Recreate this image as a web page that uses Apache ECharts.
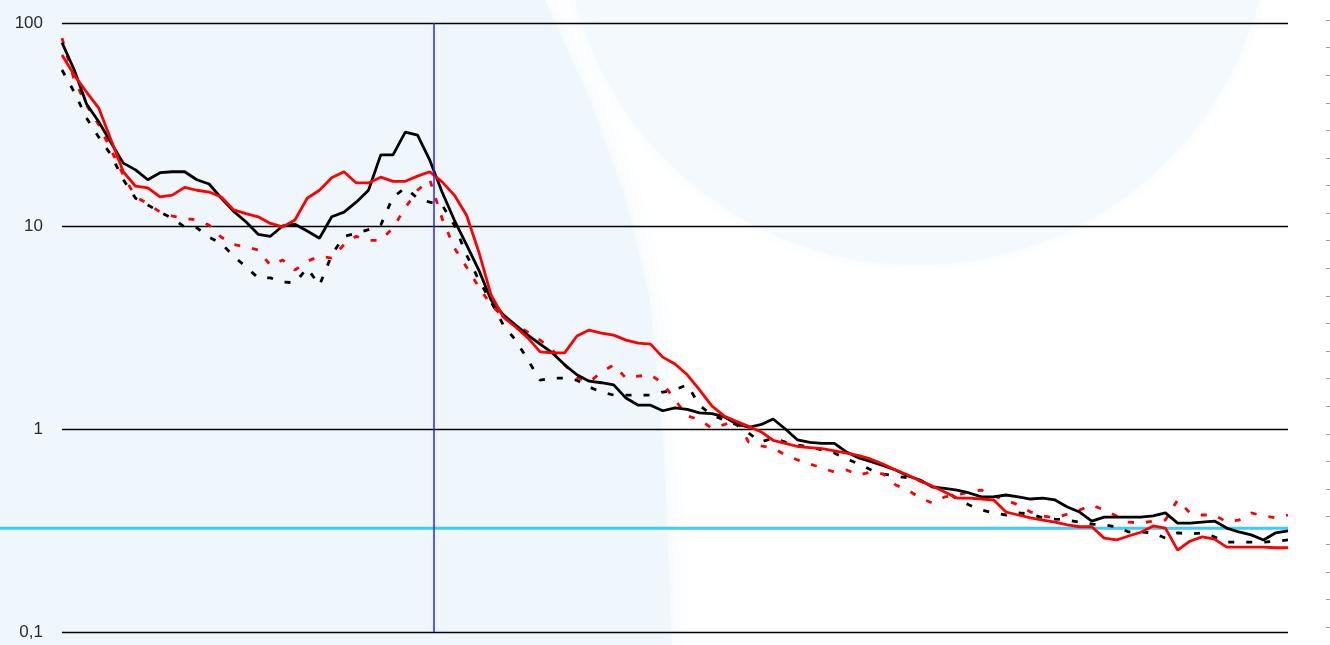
<!DOCTYPE html>
<html>
<head>
<meta charset="utf-8">
<style>
  html, body { margin: 0; padding: 0; background: #ffffff; }
  #chart { width: 1330px; height: 645px; }
</style>
<script src="https://cdn.jsdelivr.net/npm/echarts@6.0.0/dist/echarts.min.js"></script>
</head>
<body>
<div id="chart"></div>
<script>
// Four measured curves, one value per step along the horizontal axis.
const blackSolid = [80, 58.7, 39.9, 32.6, 25.7, 20.4, 18.9, 16.9, 18.3, 18.5,
  18.5, 16.9, 16.1, 13.7, 11.8, 10.5, 9.1, 8.9, 10, 10.2,
  9.45, 8.7, 11.1, 11.7, 13.1, 15.0, 22.4, 22.4, 29.0, 28.0,
  21.1, 14.7, 10.7, 8.07, 6.07, 4.32, 3.65, 3.25, 2.90, 2.62,
  2.37, 2.07, 1.85, 1.72, 1.69, 1.65, 1.42, 1.31, 1.31, 1.23,
  1.27, 1.25, 1.20, 1.19, 1.15, 1.06, 1.02, 1.05, 1.12, 1.0,
  0.883, 0.86, 0.85, 0.85, 0.77, 0.72, 0.69, 0.66, 0.628, 0.587,
  0.561, 0.517, 0.51, 0.50, 0.484, 0.463, 0.463, 0.473, 0.463, 0.452,
  0.457, 0.447, 0.413, 0.39, 0.352, 0.368, 0.368, 0.368, 0.368, 0.373,
  0.386, 0.344, 0.344, 0.348, 0.352, 0.325, 0.311, 0.301, 0.284, 0.308, 0.315];

const redSolid = [69.5, 55.4, 45.7, 38.1, 26.5, 18.5, 15.7, 15.4, 13.9, 14.2,
  15.5, 15.0, 14.7, 13.9, 12.0, 11.5, 11.1, 10.3, 9.9, 10.7,
  13.7, 15.0, 17.3, 18.5, 16.3, 16.3, 17.4, 16.6, 16.6, 17.6,
  18.5, 16.5, 14.2, 11.3, 7.45, 4.57, 3.56, 3.18, 2.81, 2.40,
  2.37, 2.37, 2.87, 3.07, 2.97, 2.90, 2.74, 2.65, 2.62, 2.26,
  2.09, 1.85, 1.56, 1.30, 1.16, 1.09, 1.03, 0.97, 0.88, 0.85,
  0.82, 0.81, 0.80, 0.78, 0.76, 0.74, 0.71, 0.67, 0.628, 0.593,
  0.555, 0.524, 0.49, 0.457, 0.457, 0.452, 0.447, 0.39, 0.377, 0.365,
  0.356, 0.348, 0.337, 0.33, 0.33, 0.29, 0.284, 0.297, 0.31, 0.333,
  0.325, 0.253, 0.28, 0.294, 0.287, 0.262, 0.262, 0.262, 0.262, 0.26, 0.26];

const blackDashed = [58.7, 45.7, 34.0, 27.4, 22.4, 16.9, 13.7, 12.7, 11.7, 10.9,
  9.9, 9.8, 8.8, 8.2, 7.1, 6.3, 5.55, 5.55, 5.3, 5.25,
  6.2, 5.1, 7.2, 8.9, 9.2, 9.6, 10.1, 13.9, 15.4, 13.7,
  13.1, 12.7, 10.1, 7.2, 5.42, 4.23, 3.25, 2.74, 2.19, 1.74,
  1.78, 1.78, 1.74, 1.61, 1.52, 1.47, 1.47, 1.47, 1.47, 1.52,
  1.56, 1.65, 1.31, 1.17, 1.11, 1.05, 0.956, 0.863, 0.90, 0.863,
  0.834, 0.815, 0.788, 0.762, 0.712, 0.673, 0.628, 0.60, 0.587, 0.574,
  0.555, 0.524, 0.50, 0.452, 0.422, 0.399, 0.386, 0.377, 0.386, 0.381,
  0.365, 0.36, 0.356, 0.348, 0.34, 0.337, 0.33, 0.311, 0.311, 0.308,
  0.29, 0.308, 0.304, 0.308, 0.294, 0.277, 0.277, 0.277, 0.277, 0.28, 0.284];

const redDashed = [84.3, 52.4, 39.4, 31.5, 23.7, 17.8, 13.9, 12.9, 11.7, 11.2,
  10.9, 10.7, 10.1, 8.8, 8.1, 7.9, 7.62, 6.4, 6.8, 6.07,
  6.7, 7.1, 6.95, 8.1, 8.9, 8.5, 8.5, 9.8, 12.3, 15.0,
  16.9, 10.9, 7.8, 6.27, 5.0, 4.08, 3.56, 3.25, 3.0, 2.74,
  2.45, 2.07, 1.80, 1.70, 1.91, 2.07, 1.78, 1.82, 1.85, 1.68,
  1.39, 1.16, 1.11, 1.01, 1.05, 1.11, 0.863, 0.825, 0.806, 0.745,
  0.704, 0.673, 0.642, 0.614, 0.628, 0.593, 0.614, 0.60, 0.53, 0.50,
  0.457, 0.432, 0.463, 0.473, 0.49, 0.50, 0.468, 0.447, 0.422, 0.39,
  0.373, 0.365, 0.381, 0.399, 0.422, 0.399, 0.373, 0.348, 0.344, 0.352,
  0.356, 0.447, 0.386, 0.377, 0.377, 0.348, 0.356, 0.386, 0.373, 0.365, 0.377];

// Decade ticks of the logarithmic value axis and their printed labels.
const yTickValues = [0.1, 1, 10, 100];
const yTickLabels = ['0,1', '1', '10', '100'];

// Vertical marker position and horizontal reference level.
const markerX = 30.34;
const referenceLevel = 0.324;

const lastIndex = blackSolid.length - 1;
const toPairs = arr => arr.map((v, i) => [i, v]);

function tickLabel(v) {
  let best = 0, bestDiff = Infinity;
  yTickValues.forEach((t, i) => {
    const d = Math.abs(Math.log10(v) - Math.log10(t));
    if (d < bestDiff) { bestDiff = d; best = i; }
  });
  return yTickLabels[best];
}

const chart = echarts.init(document.getElementById('chart'), null, { renderer: 'canvas' });

// Soft background: pale blue panel on the left and a large pale disc at the top.
const backdrop = [
  {
    type: 'polygon', z: -100, silent: true,
    shape: { points: [[0, 0], [545, 0], [590, 100], [626, 200], [650, 300], [664, 450], [672, 645], [0, 645]] },
    style: { fill: '#f0f7fc', shadowBlur: 30, shadowColor: '#f0f7fc' }
  },
  {
    type: 'circle', z: -100, silent: true,
    shape: { cx: 917, cy: -88, r: 353 },
    style: { fill: '#f4f9fd', shadowBlur: 16, shadowColor: '#f4f9fd' }
  }
];

const lineSeries = (name, data, color, dashed, extra) => Object.assign({
  name: name,
  type: 'line',
  xAxisIndex: 0,
  yAxisIndex: 0,
  data: toPairs(data),
  showSymbol: false,
  symbol: 'none',
  smooth: false,
  silent: true,
  lineStyle: { color: color, width: 2.8, type: dashed ? [6, 12] : 'solid' }
}, extra || {});

const option = {
  animation: false,
  backgroundColor: '#ffffff',
  graphic: backdrop,
  grid: [
    { left: 62, right: 42, top: 23, bottom: 13 },
    { left: 1326, width: 4, top: 20, bottom: 18 }
  ],
  xAxis: [
    { type: 'value', gridIndex: 0, min: 0, max: lastIndex, show: false },
    { type: 'value', gridIndex: 1, min: 0, max: 1, show: false }
  ],
  yAxis: [
    {
      type: 'log', logBase: 10, gridIndex: 0, min: 0.1, max: 100,
      axisLine: { show: false },
      axisTick: { show: false },
      splitLine: { show: true, lineStyle: { color: '#000000', width: 1.4 } },
      axisLabel: {
        margin: 19, color: '#2a2a2a', fontSize: 17,
        fontFamily: '"Liberation Sans", Arial, sans-serif',
        padding: [0, 0, 4, 0],
        formatter: tickLabel
      }
    },
    {
      type: 'value', gridIndex: 1, min: 0, max: 22, interval: 1, position: 'left',
      axisLine: { show: false },
      axisTick: { show: true, inside: true, length: 4, lineStyle: { color: '#9a9a9a', width: 1 } },
      axisLabel: { show: false },
      splitLine: { show: false }
    }
  ],
  series: [
    lineSeries('black dashed', blackDashed, '#000000', true),
    lineSeries('red dashed', redDashed, '#ff0000', true),
    lineSeries('black solid', blackSolid, '#000000', false),
    lineSeries('red solid', redSolid, '#ff0000', false, {
      markLine: {
        silent: true,
        symbol: 'none',
        label: { show: false },
        lineStyle: { color: '#2626ff', width: 1.5, type: 'solid' },
        data: [{ xAxis: markerX }]
      }
    })
  ]
};

chart.setOption(option);

// Cyan reference level, running from the page edge across the plot.
const refY = chart.convertToPixel({ yAxisIndex: 0 }, referenceLevel);
const plotRight = chart.convertToPixel({ xAxisIndex: 0 }, lastIndex);
chart.setOption({
  graphic: backdrop.concat([{
    type: 'line', z: 1, silent: true,
    shape: { x1: 0, y1: refY, x2: plotRight, y2: refY },
    style: { stroke: '#3ccdf4', lineWidth: 3 }
  }])
});
</script>
</body>
</html>
